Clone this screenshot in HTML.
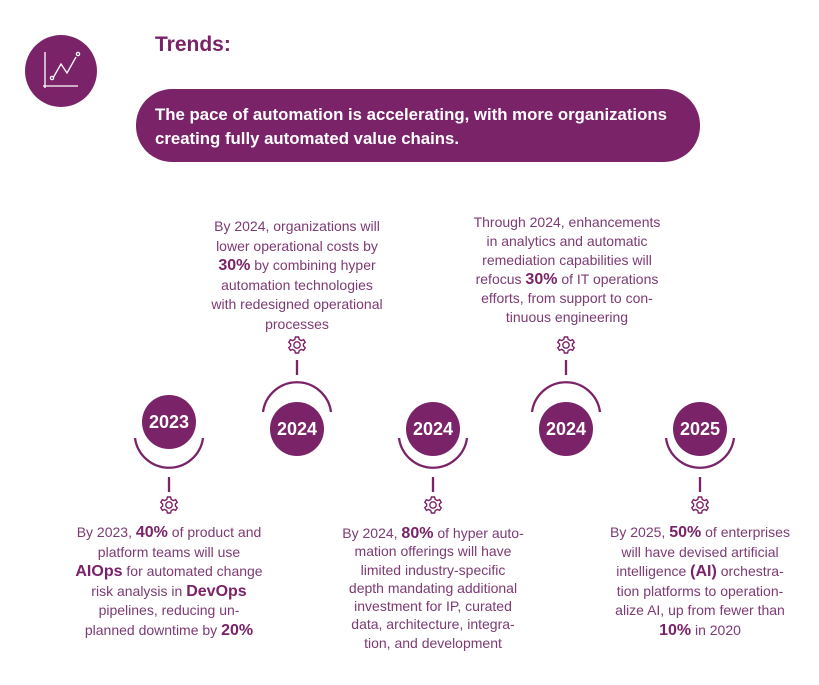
<!DOCTYPE html>
<html><head><meta charset="utf-8"><style>
body{margin:0;width:819px;height:685px;background:#fff;position:relative;overflow:hidden;font-family:"Liberation Sans",sans-serif;}
.t{position:absolute;width:260px;text-align:center;color:#7d3a73;font-size:14px;line-height:19.6px;white-space:nowrap}
.t b{color:#7a2268;font-size:16px;line-height:10px}
svg{position:absolute;left:0;top:0}
</style></head><body>
<svg width="819" height="685">
<defs>
<g id="gear" fill="none" stroke="#7a2268" stroke-width="1.4">
<path d="M-1.6,-8 L1.6,-8 L2.2,-5.6 L4.4,-4.4 L6.6,-5.4 L8.2,-2.6 L6.4,-1 L6.4,1 L8.2,2.6 L6.6,5.4 L4.4,4.4 L2.2,5.6 L1.6,8 L-1.6,8 L-2.2,5.6 L-4.4,4.4 L-6.6,5.4 L-8.2,2.6 L-6.4,1 L-6.4,-1 L-8.2,-2.6 L-6.6,-5.4 L-4.4,-4.4 L-2.2,-5.6 Z"/>
<circle r="3.2"/>
</g>
</defs>
<circle cx="61" cy="71" r="36" fill="#7b2369"/>
<g stroke="#fff" stroke-width="1.3" fill="none">
<path d="M45 52 V88 M43 86 H78"/>
<path d="M53 78 L61 64 L67 73 L76 57"/>
<circle cx="52" cy="78" r="1.6"/><circle cx="78" cy="54" r="1.6"/>
</g>
<rect x="136" y="89" width="564" height="73" rx="36" fill="#7b2369"/>
<g fill="#7b2369">
<circle cx="169" cy="422" r="27"/><circle cx="297" cy="429" r="27"/><circle cx="433" cy="429" r="27"/><circle cx="566" cy="429" r="27"/><circle cx="700" cy="429" r="27"/>
</g>
<g fill="none" stroke="#7b2369" stroke-width="2.3">
<path d="M135 438 A34.3 34.3 0 0 0 203 438"/>
<path d="M399 438 A34.3 34.3 0 0 0 467 438"/>
<path d="M666 438 A34.3 34.3 0 0 0 734 438"/>
<path d="M263 412 A34.3 34.3 0 0 1 331 412"/>
<path d="M532 412 A34.3 34.3 0 0 1 600 412"/>
<path d="M169 477 V492 M433 477 V492 M700 477 V492 M297 360 V375 M566 360 V375"/>
</g>
<use href="#gear" x="169" y="505"/><use href="#gear" x="433" y="505"/><use href="#gear" x="700" y="505"/>
<use href="#gear" x="297" y="345"/><use href="#gear" x="566" y="345"/>
<g fill="#fff" font-family="Liberation Sans, sans-serif" font-weight="bold" font-size="18" text-anchor="middle">
<text x="169" y="428">2023</text><text x="297" y="435">2024</text><text x="433" y="435">2024</text><text x="566" y="435">2024</text><text x="700" y="435">2025</text>
</g>
</svg>
<div style="position:absolute;left:155px;top:33px;font-size:21px;font-weight:bold;color:#7a2268">Trends:</div>
<div style="position:absolute;left:155px;top:103px;font-size:16.8px;font-weight:bold;color:#fff;line-height:24px">The pace of automation is accelerating, with more organizations<br>creating fully automated value chains.</div>
<div class="t" style="left:39px;top:523px">By 2023, <b>40%</b> of product and<br>platform teams will use<br><b>AIOps</b> for automated change<br>risk analysis in <b>DevOps</b><br>pipelines, reducing un-<br>planned downtime by <b>20%</b></div>
<div class="t" style="left:167px;top:217px">By 2024, organizations will<br>lower operational costs by<br><b>30%</b> by combining hyper<br>automation technologies<br>with redesigned operational<br>processes</div>
<div class="t" style="left:303px;top:524px;line-height:18.3px">By 2024, <b>80%</b> of hyper auto-<br>mation offerings will have<br>limited industry-specific<br>depth mandating additional<br>investment for IP, curated<br>data, architecture, integra-<br>tion, and development</div>
<div class="t" style="left:437px;top:213px;line-height:19px">Through 2024, enhancements<br>in analytics and automatic<br>remediation capabilities will<br>refocus <b>30%</b> of IT operations<br>efforts, from support to con-<br>tinuous engineering</div>
<div class="t" style="left:570px;top:523px">By 2025, <b>50%</b> of enterprises<br>will have devised artificial<br>intelligence <b>(AI)</b> orchestra-<br>tion platforms to operation-<br>alize AI, up from fewer than<br><b>10%</b> in 2020</div>
</body></html>
